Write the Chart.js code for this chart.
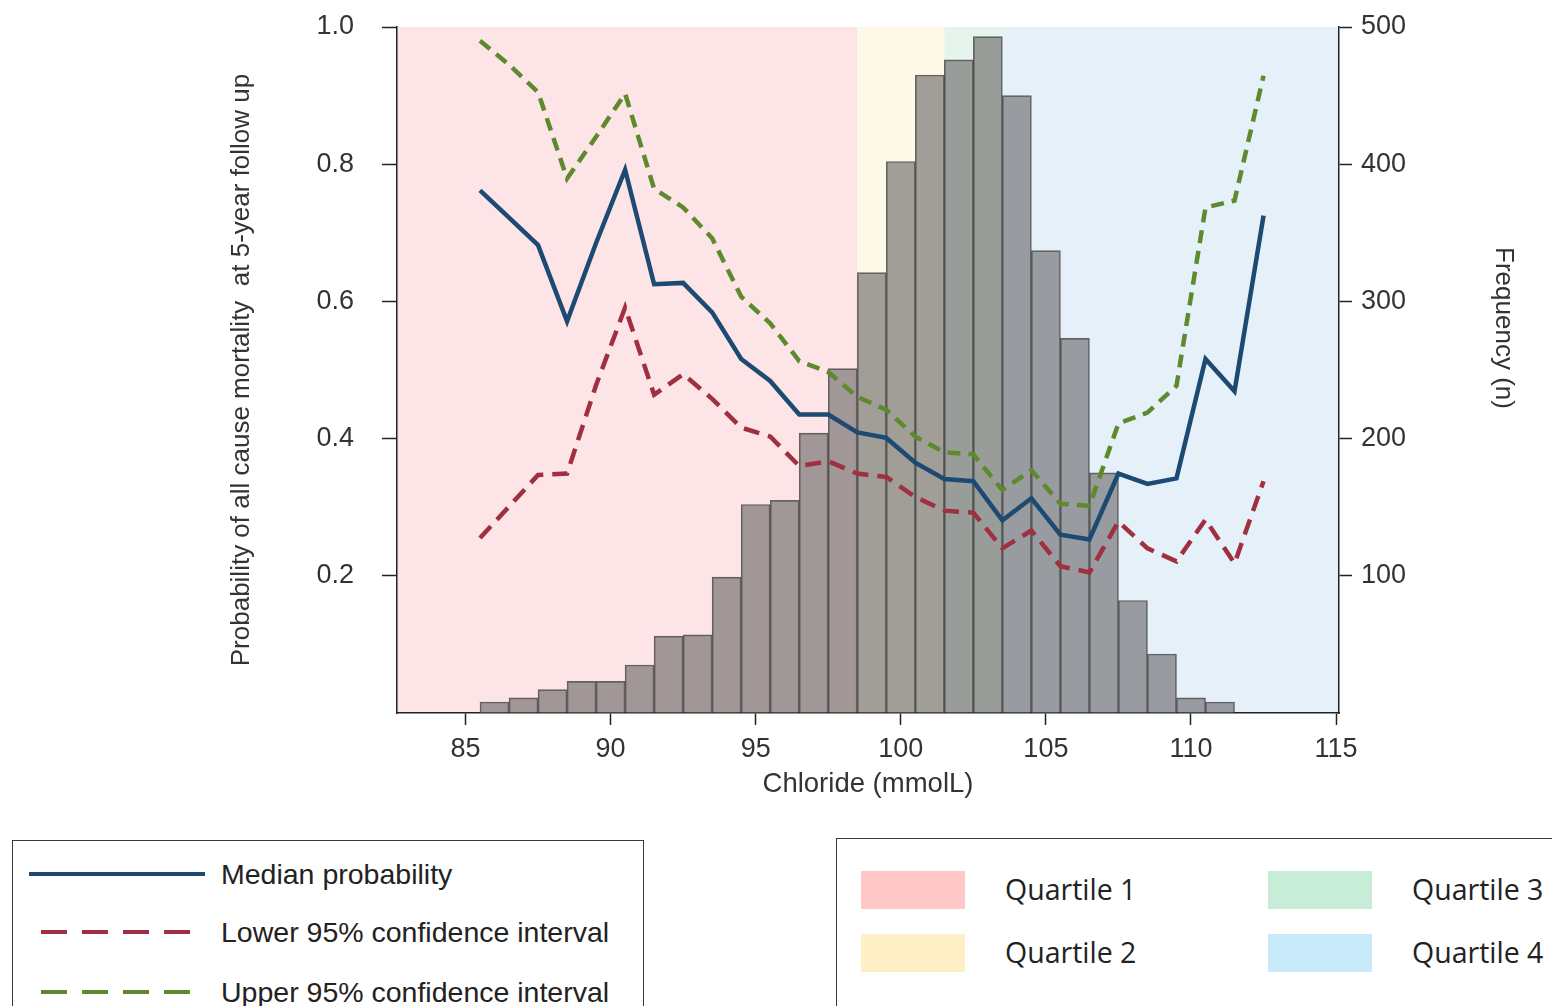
<!DOCTYPE html>
<html>
<head>
<meta charset="utf-8">
<script src="https://cdn.jsdelivr.net/npm/chart.js@4.4.1/dist/chart.umd.min.js"></script>
<style>
  body { margin: 0; background: #fff; width: 1552px; height: 1006px; overflow: hidden; position: relative; font-family: 'Liberation Sans', Arial, sans-serif; color: #222; }
  #chartBox { position: absolute; left: 0; top: 0; }
  .legend { position: absolute; border: 1.5px solid #3a3a3a; background: #fff; }
  #lineLegend { left: 12px; top: 840px; width: 630px; height: 220px; }
  #quartLegend { left: 836px; top: 838px; width: 780px; height: 220px; }
  .txt { position: absolute; white-space: nowrap; line-height: 32px; }
  #lineLegend .txt { font-size: 28.5px; }
  #quartLegend .txt { font-family: 'Open Sans', sans-serif; font-size: 28.5px; }
  .sw { position: absolute; width: 104px; height: 38px; }
</style>
</head>
<body>
<canvas id="chartBox" width="1552" height="830"></canvas>
<div id="lineLegend" class="legend"></div>
<div id="quartLegend" class="legend"></div>
<script>
// x positions of the probability curve (mmol/L)
const chloride = [85.5, 86.5, 87.5, 88.5, 89.5, 90.5, 91.5, 92.5, 93.5, 94.5, 95.5, 96.5, 97.5, 98.5,
                  99.5, 100.5, 101.5, 102.5, 103.5, 104.5, 105.5, 106.5, 107.5, 108.5, 109.5, 110.5, 111.5, 112.5];
const medianProb = [0.762, 0.722, 0.682, 0.571, 0.685, 0.792, 0.625, 0.627, 0.584, 0.516, 0.484, 0.435, 0.435, 0.409,
                    0.401, 0.365, 0.341, 0.338, 0.281, 0.313, 0.260, 0.253, 0.349, 0.334, 0.342, 0.516, 0.469, 0.725];
const lowerCI = [0.255, 0.301, 0.347, 0.349, 0.478, 0.591, 0.464, 0.494, 0.458, 0.416, 0.403, 0.360, 0.367, 0.349,
                 0.344, 0.315, 0.295, 0.292, 0.240, 0.266, 0.214, 0.205, 0.279, 0.240, 0.221, 0.282, 0.218, 0.338];
const upperCI = [0.980, 0.945, 0.905, 0.779, 0.840, 0.903, 0.764, 0.737, 0.692, 0.607, 0.568, 0.513, 0.497, 0.461,
                 0.442, 0.403, 0.380, 0.377, 0.325, 0.354, 0.305, 0.302, 0.422, 0.438, 0.477, 0.737, 0.747, 0.929];

// histogram
const binCentres = [86, 87, 88, 89, 90, 91, 92, 93, 94, 95, 96, 97, 98, 99, 100, 101, 102, 103, 104, 105, 106, 107, 108, 109, 110, 111];
const frequency = [8, 11, 17, 23, 23, 35, 56, 57, 99, 152, 155, 204, 251, 321, 402, 465, 476, 493, 450, 337, 273, 175, 82, 43, 11, 8];

// quartile cut points
const quartileCuts = [98.5, 101.5, 103.5];
const quartileNames = ['Quartile 1', 'Quartile 2', 'Quartile 3', 'Quartile 4'];

const seriesNames = ['Median probability', 'Lower 95% confidence interval', 'Upper 95% confidence interval'];

const xTicks = [85, 90, 95, 100, 105, 110, 115];
const yTicks = [0.2, 0.4, 0.6, 0.8, 1.0];
const y2Ticks = [100, 200, 300, 400, 500];

const bandFill = ['#fde5e7', '#fdf8e8', '#e5f4ec', '#e6f0f9'];
const swatchFill = ['#ffc8c8', '#ffefc6', '#c7ecd8', '#c8eaf8'];
const lineCols = ['#1d4a73', '#a0303f', '#5e8a2e'];
const fontFam = "'Liberation Sans', Arial, sans-serif";

const bandsPlugin = {
  id: 'quartileBands',
  beforeDraw(chart) {
    const {ctx, chartArea, scales} = chart;
    const x = scales.x;
    const edges = [x.min].concat(quartileCuts, [x.max]);
    ctx.save();
    for (let i = 0; i < bandFill.length; i++) {
      const x0 = x.getPixelForValue(edges[i]);
      const x1 = x.getPixelForValue(edges[i + 1]);
      ctx.fillStyle = bandFill[i];
      ctx.fillRect(x0, chartArea.top, x1 - x0, chartArea.bottom - chartArea.top);
    }
    ctx.restore();
  }
};

// right axis title sits a bit above centre in the original
const rightTitlePlugin = {
  id: 'rightTitle',
  afterDraw(chart) {
    const ctx = chart.ctx;
    const s = chart.scales.y2;
    ctx.save();
    ctx.translate(s.right - 49, (s.top + s.bottom) / 2 - 42);
    ctx.rotate(Math.PI / 2);
    ctx.font = '26px ' + fontFam;
    ctx.fillStyle = '#333';
    ctx.textAlign = 'center';
    ctx.textBaseline = 'middle';
    ctx.fillText('Frequency (n)', 0, 0);
    ctx.restore();
  }
};

function setTicks(list) {
  return function (scale) { scale.ticks = list.map(v => ({value: v})); };
}

// fixed axis box sizes so the plot area lands where the original has it
function fixWidth(w) {
  return function (s) { s.width = w; s.paddingTop = 0; s.paddingBottom = 0; };
}

const axisGrid = (len) => ({
  drawOnChartArea: false, drawTicks: true, tickLength: len, tickWidth: 1.5, tickColor: '#222', offset: false
});
const axisBorder = {display: true, color: '#222', width: 1.5};

const lineSet = (i, vals, dash) => ({
  type: 'line',
  label: seriesNames[i],
  data: chloride.map((x, k) => ({x: x, y: vals[k]})),
  yAxisID: 'y',
  borderColor: lineCols[i],
  borderWidth: 4.5,
  borderDash: dash,
  pointRadius: 0,
  tension: 0,
  fill: false,
  order: 3 - i
});

new Chart(document.getElementById('chartBox'), {
  type: 'line',
  data: {
    datasets: [
      lineSet(0, medianProb, []),
      lineSet(1, lowerCI, [16, 9]),
      lineSet(2, upperCI, [13, 8]),
      {
        type: 'bar',
        label: 'Frequency',
        data: binCentres.map((x, k) => ({x: x, y: frequency[k]})),
        yAxisID: 'y2',
        backgroundColor: 'rgba(100,98,98,0.6)',
        borderColor: 'rgba(40,40,40,0.7)',
        borderWidth: 1,
        barPercentage: 1,
        categoryPercentage: 1,
        order: 10
      }
    ]
  },
  options: {
    responsive: false,
    animation: false,
    layout: {padding: {top: 27, left: 0, right: 0, bottom: 0}},
    plugins: {legend: {display: false}, tooltip: {enabled: false}},
    scales: {
      x: {
        type: 'linear', min: 82.64, max: 115.1, offset: false,
        afterBuildTicks: setTicks(xTicks),
        afterFit: s => { s.height = 117; },
        grid: axisGrid(12), border: axisBorder,
        ticks: {font: {size: 27, family: fontFam}, color: '#333', padding: 8, maxRotation: 0, autoSkip: false},
        title: {display: true, text: 'Chloride (mmolL)', font: {size: 27.5, family: fontFam}, color: '#333', padding: {top: 0, bottom: 29}}
      },
      y: {
        position: 'left', min: 0, max: 1,
        afterBuildTicks: setTicks(yTicks),
        afterFit: fixWidth(397),
        grid: axisGrid(15), border: axisBorder,
        ticks: {font: {size: 27, family: fontFam}, color: '#333', padding: 28, callback: v => v.toFixed(1)},
        title: {display: true, text: 'Probability of all cause mortality  at 5-year follow up', font: {size: 26, family: fontFam}, color: '#333', padding: {top: 226, bottom: 0}}
      },
      y2: {
        position: 'right', min: 0, max: 500,
        afterBuildTicks: setTicks(y2Ticks),
        afterFit: fixWidth(213),
        grid: axisGrid(13), border: axisBorder,
        ticks: {font: {size: 27, family: fontFam}, color: '#333', padding: 9}
      }
    }
  },
  plugins: [bandsPlugin, rightTitlePlugin]
});

// legends below the chart
const lineLeg = document.getElementById('lineLegend');
const rowY = [33, 91, 151];
let svg = '<svg width="200" height="200" style="position:absolute;left:0;top:0">';
svg += '<line x1="16" x2="192" y1="' + rowY[0] + '" y2="' + rowY[0] + '" stroke="' + lineCols[0] + '" stroke-width="4"/>';
svg += '<line x1="28" x2="179" y1="' + rowY[1] + '" y2="' + rowY[1] + '" stroke="' + lineCols[1] + '" stroke-width="4" stroke-dasharray="26 15"/>';
svg += '<line x1="28" x2="179" y1="' + rowY[2] + '" y2="' + rowY[2] + '" stroke="' + lineCols[2] + '" stroke-width="4" stroke-dasharray="26 15"/>';
svg += '</svg>';
lineLeg.innerHTML = svg;
seriesNames.forEach((name, i) => {
  const t = document.createElement('div');
  t.className = 'txt';
  t.textContent = name;
  t.style.left = '208px';
  t.style.top = (rowY[i] - 16) + 'px';
  lineLeg.appendChild(t);
});

const qLeg = document.getElementById('quartLegend');
quartileNames.forEach((name, i) => {
  const col = Math.floor(i / 2), row = i % 2;
  const sw = document.createElement('div');
  sw.className = 'sw';
  sw.style.background = swatchFill[i];
  sw.style.left = (24 + col * 407) + 'px';
  sw.style.top = (32 + row * 63) + 'px';
  qLeg.appendChild(sw);
  const t = document.createElement('div');
  t.className = 'txt';
  t.textContent = name;
  t.style.left = (168 + col * 407) + 'px';
  t.style.top = (34 + row * 63) + 'px';
  qLeg.appendChild(t);
});
</script>
</body>
</html>
